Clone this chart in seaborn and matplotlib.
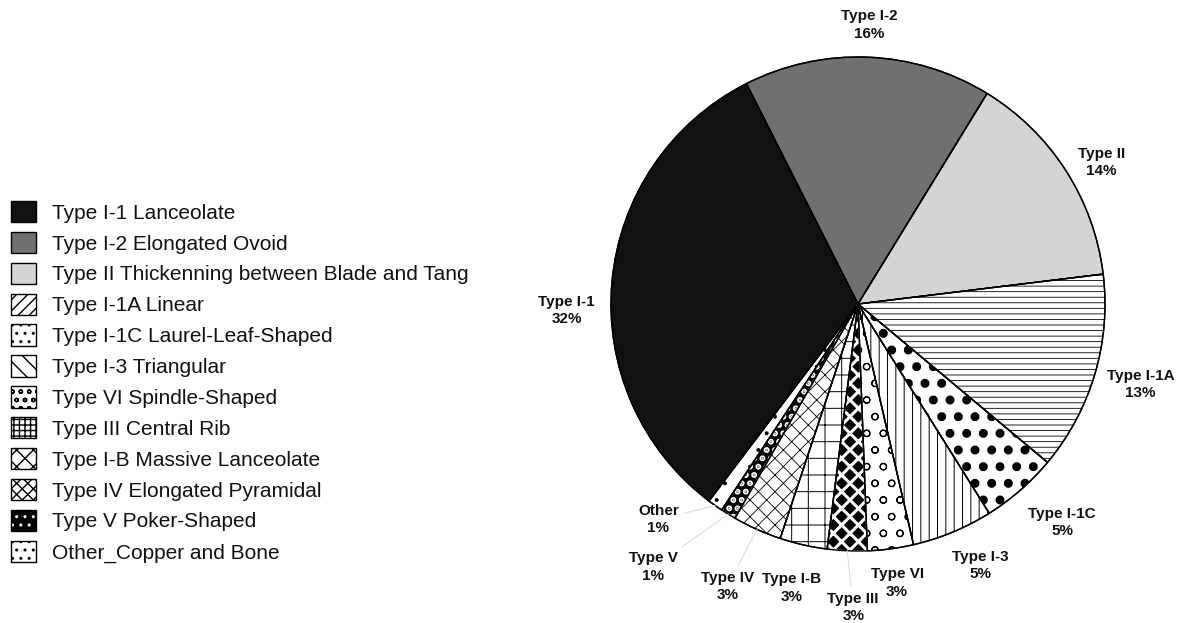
import numpy as np
import matplotlib
matplotlib.use("Agg")
import matplotlib.pyplot as plt
from matplotlib.patches import Patch
import seaborn as sns

# data (shares in %, clockwise from Type I-1)
categories = [
    "Type I-1 Lanceolate",
    "Type I-2 Elongated Ovoid",
    "Type II Thickenning between Blade and Tang",
    "Type I-1A Linear",
    "Type I-1C Laurel-Leaf-Shaped",
    "Type I-3 Triangular",
    "Type VI Spindle-Shaped",
    "Type III Central Rib",
    "Type I-B Massive Lanceolate",
    "Type IV Elongated Pyramidal",
    "Type V Poker-Shaped",
    "Other_Copper and Bone",
]
short_labels = ["Type I-1", "Type I-2", "Type II", "Type I-1A", "Type I-1C", "Type I-3",
                "Type VI", "Type III", "Type I-B", "Type IV", "Type V", "Other"]
shares = [32.2, 16.2, 14.3, 13.0, 5.0, 5.3, 3.0, 2.6, 3.1, 3.2, 1.0, 1.0]

# styling: face, hatch colour, hatch, hatch linewidth -- pie and legend differ
pie_face = ["#111111", "#707070", "#d4d4d4", "white", "white", "white",
            "white", "black", "white", "white", "black", "white"]
pie_hcol = ["black", "black", "black", "black", "black", "black",
            "black", "white", "black", "black", "white", "black"]
pie_hatch = [None, None, None, "---", ".", "||", "o", "xx", "+", "xx", "..", "."]
pie_hlw = [1, 1, 1, 0.6, 4.0, 0.7, 0.8, 2.2, 0.7, 0.6, 3.0, 0.4]

leg_face = ["#111111", "#707070", "#d4d4d4", "white", "white", "white",
            "white", "white", "white", "white", "black", "white"]
leg_hcol = ["black", "black", "black", "black", "black", "black",
            "black", "black", "black", "black", "white", "black"]
leg_hatch = [None, None, None, "///", "..", "\\\\", "oo", "+++", "xx", "xxx", "..", ".."]
leg_hlw = [1, 1, 1, 0.5, 2.6, 0.7, 0.6, 1.6, 0.7, 0.5, 2.6, 0.3]

# label placement: radius (in pie radii) and clockwise nudge from wedge middle (deg)
label_r = [1.18, 1.13, 1.14, 1.19, 1.21, 1.17, 1.14, 1.23, 1.18, 1.26, 1.35, 1.19]
label_dtheta = [-6.4, 0, 2.6, -0.6, -2, -2.6, -0.4, -1.6, 0.3, 0.7, 6.2, 7.5]
leader = [False, False, False, False, False, False, False, True, False, True, True, True]

sns.set_theme(style="white")
plt.rcParams["font.family"] = ["Liberation Sans", "DejaVu Sans"]

fig = plt.figure(figsize=(11.81, 6.23), dpi=100)
ax = fig.add_axes([611 / 1181, 72 / 623, 494 / 1181, 494 / 623])

start = 90 - 217.1
wedges, _ = ax.pie(shares, startangle=start, counterclock=False, colors=pie_face,
                   wedgeprops=dict(linewidth=1.0))
for w, hc, h, lw in zip(wedges, pie_hcol, pie_hatch, pie_hlw):
    w.set_edgecolor(hc)
    w.set_hatch(h)
    w.set_hatch_linewidth(lw)

# black outlines drawn over the hatched wedges
ax.pie(shares, startangle=start, counterclock=False,
       wedgeprops=dict(fill=False, edgecolor="black", linewidth=1.0))
ax.set_xlim(-1, 1)
ax.set_ylim(-1, 1)

for w, name, v, r, dt, ld in zip(wedges, short_labels, shares, label_r, label_dtheta, leader):
    mid = np.deg2rad((w.theta1 + w.theta2) / 2)
    ang = np.deg2rad((w.theta1 + w.theta2) / 2 - dt)
    txt = f"{name}\n{round(v):.0f}%"
    kw = dict(ha="center", va="center", fontsize=11, fontweight="bold",
              color="#111111", linespacing=1.3)
    if ld:
        ax.annotate(txt, xy=(np.cos(mid), np.sin(mid)),
                    xytext=(r * np.cos(ang), r * np.sin(ang)),
                    arrowprops=dict(arrowstyle="-", color="#dcdcdc", lw=0.8,
                                    shrinkA=2, shrinkB=0), **kw)
    else:
        ax.text(r * np.cos(ang), r * np.sin(ang), txt, **kw)

handles = []
for fc, hc, h, lw in zip(leg_face, leg_hcol, leg_hatch, leg_hlw):
    p = Patch(facecolor=fc, edgecolor=hc, hatch=h, linewidth=0)
    p.set_hatch_linewidth(lw)
    edge = Patch(facecolor="none", edgecolor="black", linewidth=1.0)
    handles.append((p, edge))

fig.legend(handles, categories, loc="upper left", bbox_to_anchor=(11 / 1181, 1 - 201 / 623),
           frameon=False, fontsize=15, handlelength=1.2, handleheight=1.2,
           handletextpad=0.75, labelspacing=0.44, borderpad=0, borderaxespad=0,
           labelcolor="#111111")

fig.savefig("out.png", dpi=100)
